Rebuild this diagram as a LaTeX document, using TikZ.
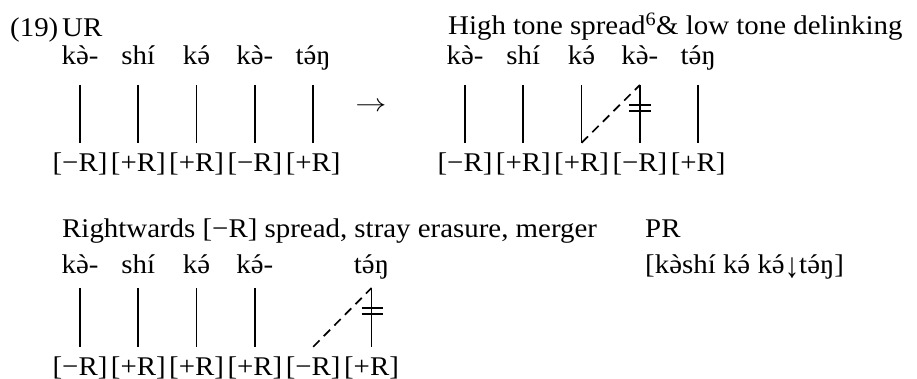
\documentclass[tikz,border=0pt]{standalone}
\usepackage{fontspec}
\newfontfamily\ipafont{Liberation Serif}[FakeStretch=1.07]
\usetikzlibrary{calc}

\newcommand\gv[1]{{\accent"60 #1}}
\newcommand\ac[1]{{\accent"B4 #1}}

\tikzset{
  lab/.style={anchor=base west, inner sep=0pt},
  seg/.style={anchor=base, inner sep=0pt, text depth=6pt},
  feat/.style={anchor=base, inner sep=0pt, text height=20pt},
  assoc/.style={line width=1.7pt},
  spreadline/.style={line width=1.7pt, dash pattern=on 9pt off 6pt},
  cutbar/.style={line width=1.7pt},
}

\begin{document}
\begin{tikzpicture}[x=1pt,y=1pt,font=\ipafont\fontsize{27}{32}\selectfont]
\useasboundingbox (0,0) rectangle (917,-379);

% UR
\node[lab] (ex) at (10,-37) {(19)};
\node[lab] (ur) at (62,-37) {UR};

\node[seg] (a1) at (80,-65) {k\gv{ə}-};
\node[seg] (a2) at (138.3,-65) {shí};
\node[seg] (a3) at (196.6,-65) {k\ac{ə}};
\node[seg] (a4) at (254.9,-65) {k\gv{ə}-};
\node[seg] (a5) at (313.2,-65) {t\ac{ə}ŋ};

\node[feat] (p1) at (80,-172) {[−R]};
\node[feat] (p2) at (138.3,-172) {[+R]};
\node[feat] (p3) at (196.6,-172) {[+R]};
\node[feat] (p4) at (254.9,-172) {[−R]};
\node[feat] (p5) at (313.2,-172) {[+R]};

\begin{scope}[assoc, shorten <=13.75pt, shorten >=9pt]
\draw (a1) -- (p1);
\draw (a2) -- (p2);
\draw (a3) -- (p3);
\draw (a4) -- (p4);
\draw (a5) -- (p5);
\end{scope}

\node[inner sep=0pt] (arr) at (371,-107) {\scalebox{1.25}[1]{$\rightarrow$}};

% high tone spread & low tone delinking
\node[lab] (hts) at (448,-35) {High tone spread\textsuperscript{6}\&\ low tone delinking};

\node[seg] (b1) at (465,-65) {k\gv{ə}-};
\node[seg] (b2) at (523.3,-65) {shí};
\node[seg] (b3) at (581.6,-65) {k\ac{ə}};
\node[seg] (b4) at (639.9,-65) {k\gv{ə}-};
\node[seg] (b5) at (698.2,-65) {t\ac{ə}ŋ};

\node[feat] (q1) at (465,-172) {[−R]};
\node[feat] (q2) at (523.3,-172) {[+R]};
\node[feat] (q3) at (581.6,-172) {[+R]};
\node[feat] (q4) at (639.9,-172) {[−R]};
\node[feat] (q5) at (698.2,-172) {[+R]};

\begin{scope}[assoc, shorten <=13.75pt, shorten >=9pt]
\draw (b1) -- (q1);
\draw (b2) -- (q2);
\draw (b3) -- (q3);
\draw (b4) -- (q4);
\draw (b5) -- (q5);
\end{scope}

\draw[spreadline] ($(q3.north)+(0,9)$) -- ($(b4.south)+(0,-13.75)$);
\draw[cutbar] ($(b4.south)+(-11,-34)$) -- ++(22,0);
\draw[cutbar] ($(b4.south)+(-11,-40)$) -- ++(22,0);

% rightwards [-R] spread, stray erasure, merger
\node[lab] (rws) at (62,-237) {Rightwards [−R] spread, stray erasure, merger};

\node[seg] (c1) at (80,-273) {k\gv{ə}-};
\node[seg] (c2) at (138.3,-273) {shí};
\node[seg] (c3) at (196.6,-273) {k\ac{ə}};
\node[seg] (c4) at (254.9,-273) {k\ac{ə}-};
\node[seg] (c6) at (371.5,-273) {t\ac{ə}ŋ};

\node[feat] (r1) at (80,-375) {[−R]};
\node[feat] (r2) at (138.3,-375) {[+R]};
\node[feat] (r3) at (196.6,-375) {[+R]};
\node[feat] (r4) at (254.9,-375) {[+R]};
\node[feat] (r5) at (313.2,-375) {[−R]};
\node[feat] (r6) at (371.5,-375) {[+R]};

\begin{scope}[assoc, shorten <=8.75pt, shorten >=8pt]
\draw (c1) -- (r1);
\draw (c2) -- (r2);
\draw (c3) -- (r3);
\draw (c4) -- (r4);
\draw (c6) -- (r6);
\end{scope}

\draw[spreadline] ($(r5.north)+(0,8)$) -- ($(c6.south)+(0,-8.75)$);
\draw[cutbar] ($(c6.south)+(-10,-28.5)$) -- ++(21,0);
\draw[cutbar] ($(c6.south)+(-10,-34.5)$) -- ++(21,0);

% PR
\node[lab] (pr) at (645,-237) {PR};
\node[lab] (prf) at (645,-273) {[k\gv{ə}shí k\ac{ə} k\ac{ə}{\raisebox{-0.15em}{\scalebox{1}[1.3]{↓}}}t\ac{ə}ŋ]};
\end{tikzpicture}
\end{document}
